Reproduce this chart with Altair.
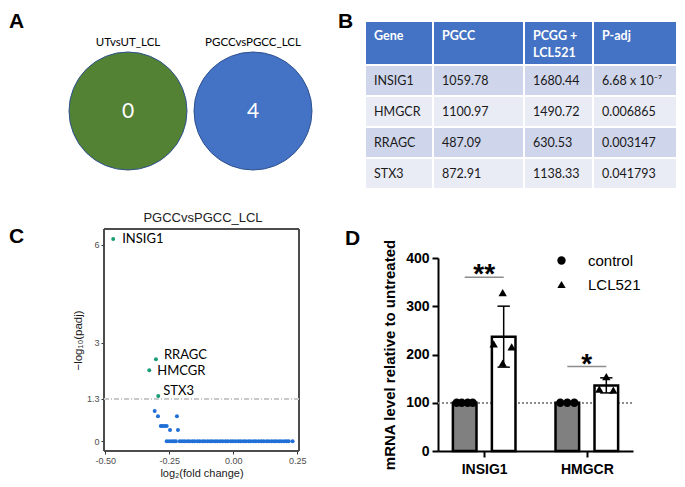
import altair as alt
import pandas as pd

W, H = 669, 471
SANS = "Liberation Sans"
CAL = "Lato"

# ---------------- data: panel A (Venn counts)
venn_sets = ["UTvsUT_LCL", "PGCCvsPGCC_LCL"]
venn_counts = [0, 4]
venn_fill = ["#548235", "#4472C4"]

# ---------------- data: panel B (table)
tbl_header = ["Gene", "PGCC", "PCGG +\nLCL521", "P-adj"]
tbl_gene = ["INSIG1", "HMGCR", "RRAGC", "STX3"]
tbl_pgcc = ["1059.78", "1100.97", "487.09", "872.91"]
tbl_lcl = ["1680.44", "1490.72", "630.53", "1138.33"]
tbl_padj = ["6.68 x 10\u207b\u2077", "0.006865", "0.003147", "0.041793"]

# ---------------- data: panel C (volcano)
volc_sig_gene = ["INSIG1", "RRAGC", "HMCGR", "STX3"]
volc_sig_lfc = [-0.469, -0.302, -0.328, -0.293]
volc_sig_nlp = [6.175, 2.502, 2.163, 1.379]
volc_ns_lfc = [-0.307, -0.294, -0.220, -0.283, -0.276, -0.268, -0.260, -0.247, -0.216]
volc_ns_nlp = [0.925, 0.763, 0.763, 0.461, 0.461, 0.461, 0.461, 0.341, 0.341]
volc_zero_lfc = [-0.260, -0.250, -0.240, -0.232, -0.224, -0.209, -0.200, -0.191, -0.180,
                 -0.171, -0.160, -0.151, -0.140, -0.131, -0.120, -0.111, -0.100, -0.090,
                 -0.081, -0.070, -0.061, -0.050, -0.041, -0.030, -0.021, -0.010, -0.001,
                 0.009, 0.020, 0.029, 0.040, 0.049, 0.060, 0.069, 0.080, 0.089, 0.100,
                 0.110, 0.119, 0.130, 0.139, 0.150, 0.160, 0.169, 0.180, 0.189, 0.200,
                 0.209, 0.217, 0.232]

# ---------------- data: panel D (qPCR)
d_genes = ["INSIG1", "HMGCR"]
d_conds = ["control", "LCL521"]
ctrl_insig1 = [100, 100, 100, 100]
ctrl_hmgcr = [100, 100, 100]
lcl_insig1 = [328, 222, 216, 182]
lcl_hmgcr = [154, 128, 126]
sig_text = ["**", "*"]
sig_level = [360, 175]

# ---------------- layout helpers (pixels / offsets, not data)
col_edges = [357, 425, 516, 585, 669]
row_edges = [13, 57, 88, 119, 150, 181]
row_fill = ["#4472C4", "#CFD5EA", "#E9EBF5", "#CFD5EA", "#E9EBF5"]
group_center = [1, 2]
cond_offset = [-0.19, 0.19]
unit_px = 195 / 1.9
jit_px = [[-8, -3, 3, 8], [-1, -10, 8, -1], [-7, 0, 7], [0, -7, 7]]
C_TOP, C_BOT = 221, 443
D_TOP, D_BOT = 250, 443

# ================= Panel A
dfA = pd.DataFrame({"set": venn_sets, "count": venn_counts, "fill": venn_fill})
xA = alt.X("set:N", scale=alt.Scale(domain=venn_sets, range=[120, 245], padding=0), axis=None)
a_circ = alt.Chart(dfA).mark_point(shape="circle", filled=True, size=118 ** 2, stroke="#2F528F",
                                   strokeWidth=1, opacity=1).encode(
    x=xA, y=alt.value(103), fill=alt.Fill("fill:N", scale=None))
a_tit = alt.Chart(dfA).mark_text(font=CAL, fontSize=11.5, color="black").encode(
    x=xA, y=alt.value(35), text="set:N")
a_cnt = alt.Chart(dfA).mark_text(font=CAL, fontSize=21, color="white").encode(
    x=xA, y=alt.value(104), text="count:Q")
panelA = alt.layer(a_circ, a_tit, a_cnt)

# ================= Panel B
cells, texts = [], []
body = [tbl_gene, tbl_pgcc, tbl_lcl, tbl_padj]
for r in range(5):
    for c in range(4):
        cells.append(dict(x0=col_edges[c], x1=col_edges[c + 1], y0=row_edges[r],
                          y1=row_edges[r + 1], fill=row_fill[r]))
        if r > 0:
            texts.append(dict(x=col_edges[c] + 9, y=(row_edges[r] + row_edges[r + 1]) / 2,
                              t=body[c][r - 1]))
heads = [dict(x=col_edges[c] + 9, y=row_edges[0] + 19, t=tbl_header[c]) for c in range(4)]
xB = alt.Scale(domain=[0, W], range=[0, W], nice=False, zero=False)
yB = alt.Scale(domain=[0, H], range=[0, H], nice=False, zero=False)
b_rect = alt.Chart(pd.DataFrame(cells)).mark_rect(stroke="white", strokeWidth=2).encode(
    x=alt.X("x0:Q", scale=xB, axis=None), x2="x1:Q",
    y=alt.Y("y0:Q", scale=yB, axis=None), y2="y1:Q",
    fill=alt.Fill("fill:N", scale=None))
b_body = alt.Chart(pd.DataFrame(texts)).mark_text(font=CAL, fontSize=12.5, color="#1a1a1a",
                                                  align="left", baseline="middle").encode(
    x=alt.X("x:Q", scale=xB, axis=None), y=alt.Y("y:Q", scale=yB, axis=None), text="t:N")
b_head = alt.Chart(pd.DataFrame(heads)).mark_text(font=CAL, fontSize=12.5, fontWeight="bold",
                                                  color="white", align="left",
                                                  baseline="alphabetic", lineBreak="\n",
                                                  lineHeight=17).encode(
    x=alt.X("x:Q", scale=xB, axis=None), y=alt.Y("y:Q", scale=yB, axis=None), text="t:N")
panelB = alt.layer(b_rect, b_body, b_head)

# ================= Panel C
xC = alt.Scale(domain=[-0.505, 0.257], range=[96, 291], nice=False, zero=False)
yC = alt.Scale(domain=[-0.3, 6.48], range=[C_BOT, C_TOP], nice=False, zero=False)
axCx = alt.Axis(orient="bottom", offset=-(H - C_BOT), values=[-0.5, -0.25, 0, 0.25],
                labelExpr="replace(format(datum.value, '.2f'), '\u2212', '-')",
                title="log\u2082(fold change)", domain=False, grid=False, tickSize=3,
                tickColor="#333333", labelColor="#4d4d4d", labelFont=SANS, labelFontSize=9,
                labelPadding=2, titleFont=SANS, titleFontSize=11, titleFontWeight="normal",
                titleColor="#1a1a1a", titleY=22, titleBaseline="middle")
axCy = alt.Axis(orient="left", offset=-96, values=[0, 1.3, 3, 6],
                labelExpr="toString(datum.value)",
                title="\u2212log\u2081\u2080(padj)", domain=False, grid=False, tickSize=3,
                tickColor="#333333", labelColor="#4d4d4d", labelFont=SANS, labelFontSize=9,
                labelPadding=2, titleFont=SANS, titleFontSize=11.5, titleFontWeight="normal",
                titleColor="#1a1a1a", titleX=-26, titleBaseline="middle")

dfC = pd.DataFrame({
    "lfc": volc_zero_lfc + volc_ns_lfc + volc_sig_lfc,
    "nlp": [0.0] * len(volc_zero_lfc) + volc_ns_nlp + volc_sig_nlp,
    "grp": ["ns"] * (len(volc_zero_lfc) + len(volc_ns_lfc)) + ["sig"] * len(volc_sig_lfc),
    "gene": [""] * (len(volc_zero_lfc) + len(volc_ns_lfc)) + volc_sig_gene,
})
c_frame = alt.Chart(dfC).mark_rect(filled=False, stroke="#4d4d4d", strokeWidth=1).encode(
    x=alt.X(datum=-0.505, scale=xC, axis=axCx), x2=alt.X2(datum=0.257),
    y=alt.Y(datum=-0.3, scale=yC, axis=axCy), y2=alt.Y2(datum=6.48))
c_rule = alt.Chart(dfC).mark_rule(color="#c8c8c8", strokeWidth=1, strokeDash=[5, 2, 1, 2]).encode(
    x=alt.X(datum=-0.505, scale=xC, axis=axCx), x2=alt.X2(datum=0.257),
    y=alt.Y(datum=1.3, scale=yC, axis=axCy))
c_ns = alt.Chart(dfC).transform_filter("datum.grp == 'ns'").mark_circle(
    size=16, color="#1f6fd6", opacity=1).encode(
    x=alt.X("lfc:Q", scale=xC, axis=axCx), y=alt.Y("nlp:Q", scale=yC, axis=axCy))
c_sig = alt.Chart(dfC).transform_filter("datum.grp == 'sig'").mark_circle(
    size=16, color="#1a9e77", opacity=1).encode(
    x=alt.X("lfc:Q", scale=xC, axis=axCx), y=alt.Y("nlp:Q", scale=yC, axis=axCy))
label_dx = [9, 8, 8, 5]
label_dy = [0, -4, 1, -5]
c_labels = []
for g, dx, dy in zip(volc_sig_gene, label_dx, label_dy):
    c_labels.append(alt.Chart(dfC).transform_filter(f"datum.gene == '{g}'").mark_text(
        font=CAL, fontSize=13, color="black", align="left", baseline="middle", dx=dx, dy=dy).encode(
        x=alt.X("lfc:Q", scale=xC, axis=axCx), y=alt.Y("nlp:Q", scale=yC, axis=axCy), text="gene:N"))
c_title = alt.Chart(pd.DataFrame({"t": ["PGCCvsPGCC_LCL"]})).mark_text(
    font=SANS, fontSize=13, color="#222222").encode(x=alt.value(195), y=alt.value(210), text="t:N")
panelC = alt.layer(c_frame, c_rule, c_ns, c_sig, *c_labels, c_title)

# ================= Panel D
rows = []
for gi, (g, reps) in enumerate(zip(d_genes, [(ctrl_insig1, lcl_insig1), (ctrl_hmgcr, lcl_hmgcr)])):
    for ci, (cond, vals) in enumerate(zip(d_conds, reps)):
        jit = jit_px[gi * 2 + ci]
        pos = group_center[gi] + cond_offset[ci]
        for v, j in zip(vals, jit):
            rows.append(dict(gene=g, cond=cond, value=v, pos=pos, xj=pos + j / unit_px))
dfD = pd.DataFrame(rows)
xD = alt.Scale(domain=[0.55, 2.45], range=[430, 625], nice=False, zero=False)
yD = alt.Scale(domain=[0, 400], range=[D_BOT, D_TOP], nice=False, zero=False)
lab_expr = f"datum.value == {group_center[0]} ? '{d_genes[0]}' : '{d_genes[1]}'"
axDx = alt.Axis(orient="bottom", offset=-(H - D_BOT), values=group_center, labelExpr=lab_expr,
                title=None, grid=False, domainColor="black", domainWidth=2, tickColor="black",
                tickWidth=2, tickSize=6, labelFont=SANS, labelFontSize=14, labelFontWeight="bold",
                labelColor="black", labelPadding=5)
axDy = alt.Axis(orient="left", offset=-430, values=[0, 100, 200, 300, 400], grid=False,
                domainColor="black", domainWidth=2, tickColor="black", tickWidth=2, tickSize=6,
                labelFont=SANS, labelFontSize=14, labelFontWeight="bold", labelColor="black",
                labelPadding=3, title="mRNA level relative to untreated", titleFont=SANS,
                titleFontSize=15, titleFontWeight="bold", titleColor="black", titleX=-49,
                titleBaseline="middle")

d_dot = alt.Chart(dfD).mark_rule(color="#8c8c8c", strokeWidth=1, strokeDash=[2, 2]).encode(
    x=alt.X(datum=0.55, scale=xD, axis=axDx), x2=alt.X2(datum=2.45),
    y=alt.Y(datum=100, scale=yD, axis=axDy))
agg = alt.Chart(dfD).transform_aggregate(
    mean="mean(value)", sd="stdev(value)", groupby=["gene", "cond", "pos"]).transform_calculate(
    xl="datum.pos - 0.115", xr="datum.pos + 0.115",
    cl="datum.pos - 0.06", cr="datum.pos + 0.06",
    lo="datum.mean - datum.sd", hi="datum.mean + datum.sd")
d_bars = agg.mark_rect(stroke="black", strokeWidth=2.5).encode(
    x=alt.X("xl:Q", scale=xD, axis=axDx), x2="xr:Q",
    y=alt.Y("mean:Q", scale=yD, axis=axDy), y2=alt.Y2(datum=0),
    fill=alt.condition("datum.cond == 'control'", alt.value("#808080"), alt.value("white")))
err = agg.transform_filter("datum.cond == 'LCL521'")
d_err = err.mark_rule(color="black", strokeWidth=1.5).encode(
    x=alt.X("pos:Q", scale=xD, axis=axDx), y=alt.Y("lo:Q", scale=yD, axis=axDy), y2="hi:Q")
d_cap_hi = err.mark_rule(color="black", strokeWidth=1.5).encode(
    x=alt.X("cl:Q", scale=xD, axis=axDx), x2="cr:Q", y=alt.Y("hi:Q", scale=yD, axis=axDy))
d_cap_lo = err.mark_rule(color="black", strokeWidth=1.5).encode(
    x=alt.X("cl:Q", scale=xD, axis=axDx), x2="cr:Q", y=alt.Y("lo:Q", scale=yD, axis=axDy))
d_pts = alt.Chart(dfD).mark_point(filled=True, color="black", opacity=1, size=70).encode(
    x=alt.X("xj:Q", scale=xD, axis=axDx), y=alt.Y("value:Q", scale=yD, axis=axDy),
    shape=alt.Shape("cond:N", scale=alt.Scale(domain=d_conds, range=["circle", "triangle-up"]),
                    legend=alt.Legend(orient="none", legendX=546, legendY=245, title=None,
                                      direction="vertical", padding=0, labelFont=SANS,
                                      labelFontSize=15, labelColor="black", symbolSize=70,
                                      symbolFillColor="black", symbolStrokeColor="black",
                                      symbolStrokeWidth=0, rowPadding=8, labelOffset=19)))
dfS = pd.DataFrame({"center": group_center, "txt": sig_text, "lvl": sig_level})
sig_base = alt.Chart(dfS).transform_calculate(l="datum.center - 0.19", r="datum.center + 0.19")
d_sig_rule = sig_base.mark_rule(color="#8c8c8c", strokeWidth=1.5).encode(
    x=alt.X("l:Q", scale=xD, axis=axDx), x2="r:Q", y=alt.Y("lvl:Q", scale=yD, axis=axDy))
d_sig_txt = sig_base.mark_text(font=SANS, fontSize=28, fontWeight="bold", color="black",
                               baseline="alphabetic", dy=6).encode(
    x=alt.X("center:Q", scale=xD, axis=axDx), y=alt.Y("lvl:Q", scale=yD, axis=axDy), text="txt:N")
panelD = alt.layer(d_dot, d_bars, d_err, d_cap_hi, d_cap_lo, d_pts, d_sig_rule, d_sig_txt)

# ================= panel letters
letters = ["A", "B", "C", "D"]
letter_x = [1, 330, 1, 337]
letter_y = [20, 20, 235, 237]
letter_layers = [
    alt.Chart(pd.DataFrame({"t": [t]})).mark_text(
        font=SANS, fontSize=21, fontWeight="bold", color="black", align="left",
        baseline="alphabetic").encode(x=alt.value(lx), y=alt.value(ly), text="t:N")
    for t, lx, ly in zip(letters, letter_x, letter_y)
]

chart = alt.layer(panelA, panelB, panelC, panelD, *letter_layers).resolve_scale(
    x="independent", y="independent").properties(
    width=W, height=H, autosize=alt.AutoSizeParams(type="none"), padding=0
).configure_view(stroke=None)

chart.save("out.html", embed_options={"renderer": "svg", "actions": False})
